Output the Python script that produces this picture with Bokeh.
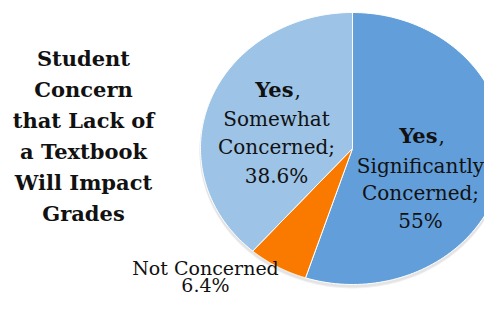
import numpy as np
from bokeh.plotting import figure
from bokeh.models import Range1d, ColumnDataSource
from bokeh.core.properties import value
from bokeh.embed import file_html
from bokeh.resources import INLINE

# ---- data ----
categories = ["Yes, Significantly Concerned", "Not Concerned", "Yes, Somewhat Concerned"]
shares = [55.0, 6.4, 38.6]
colors = ["#629ED9", "#FA7A00", "#9DC3E6"]
title_lines = ["Student", "Concern", "that Lack of", "a Textbook", "Will Impact", "Grades"]
label_sig = ["Significantly", "Concerned;", "55%"]
label_some = ["Somewhat", "Concerned;", "38.6%"]
label_not = ["Not Concerned", "6.4%"]

# pixel coordinate system of the picture
W, H = 484, 297
p = figure(width=W, height=H, output_backend="svg", toolbar_location=None,
           x_range=Range1d(0, W), y_range=Range1d(H, 0),
           min_border=0, outline_line_color=None)
p.axis.visible = False
p.grid.visible = False
p.background_fill_color = "white"
p.border_fill_color = "white"

cx, cy, rx, ry = 352, 148, 152, 136

# soft shadow
t = np.linspace(0, 2 * np.pi, 200)
for off, a in [(3, 0.10), (2, 0.12)]:
    p.patch(cx + (rx + 1) * np.sin(t), cy + off - (ry + 1) * np.cos(t),
            fill_color="#808080", fill_alpha=a, line_color=None)

# slices (clockwise from top) on an ellipse
cum = np.concatenate([[0], np.cumsum(shares)]) / 100.0 * 2 * np.pi
xs, ys = [], []
for i in range(len(shares)):
    tt = np.linspace(cum[i], cum[i + 1], 120)
    xs.append(np.concatenate([[cx], cx + rx * np.sin(tt), [cx]]))
    ys.append(np.concatenate([[cy], cy - ry * np.cos(tt), [cy]]))
src = ColumnDataSource(dict(xs=xs, ys=ys, color=colors, name=categories))
p.patches("xs", "ys", source=src, fill_color="color", line_color="white", line_width=1)

serif = value("DejaVu Serif")
txt = "#111111"

# title
p.text(x=[83] * len(title_lines), y=[58 + 31 * i for i in range(len(title_lines))],
       text=title_lines, text_font=serif, text_font_style="bold",
       text_font_size="21px", text_align="center", text_baseline="alphabetic",
       text_color=txt)

# Somewhat label
p.text(x=[293], y=[89], text=["Yes"], text_font=serif, text_font_style="bold",
       text_font_size="21px", text_align="right", text_baseline="alphabetic", text_color=txt)
p.text(x=[294], y=[89], text=[","], text_font=serif, text_font_size="20px",
       text_align="left", text_baseline="alphabetic", text_color=txt)
p.text(x=[276] * 3, y=[118, 146, 175], text=label_some, text_font=serif,
       text_font_size="20px", text_align="center", text_baseline="alphabetic", text_color=txt)

# Significantly label
p.text(x=[437], y=[135], text=["Yes"], text_font=serif, text_font_style="bold",
       text_font_size="21px", text_align="right", text_baseline="alphabetic", text_color=txt)
p.text(x=[438], y=[135], text=[","], text_font=serif, text_font_size="20px",
       text_align="left", text_baseline="alphabetic", text_color=txt)
p.text(x=[420] * 3, y=[165, 192, 220], text=label_sig, text_font=serif,
       text_font_size="20px", text_align="center", text_baseline="alphabetic", text_color=txt)

# Not concerned label (kept inside the frame)
p.text(x=[205, 205], y=[267, 284], text=label_not, text_font=serif,
       text_font_size="19px", text_align="center", text_baseline="alphabetic", text_color=txt)

open("out.html", "w").write(file_html(p, INLINE))
